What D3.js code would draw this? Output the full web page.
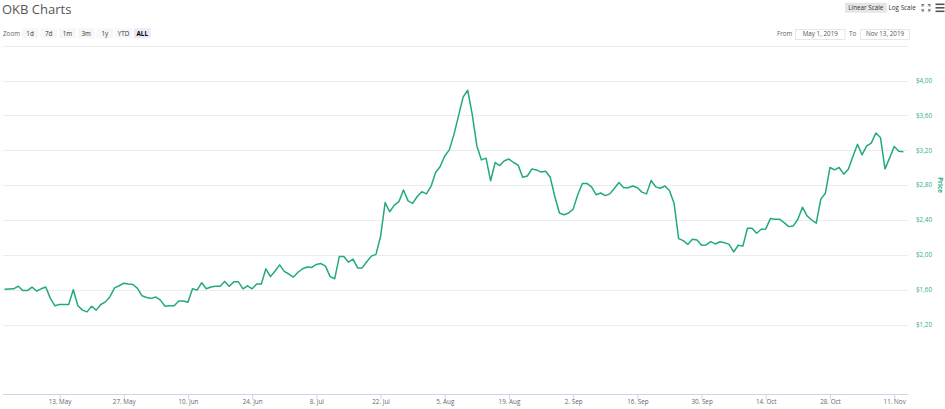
<!DOCTYPE html>
<html>
<head>
<meta charset="utf-8">
<script src="https://cdn.jsdelivr.net/npm/d3@7/dist/d3.min.js"></script>
<style>
  html, body { margin: 0; padding: 0; background: #fff; }
  svg { display: block; font-family: "Open Sans", "DejaVu Sans", sans-serif; }
</style>
</head>
<body>
<svg id="chart" width="945" height="409"></svg>
<script>
// ---- data ----
const startDate = "2019-05-01";
const prices = [
  1.605, 1.607, 1.61, 1.64, 1.59, 1.59, 1.63, 1.585, 1.61, 1.63,
  1.50, 1.415, 1.43, 1.43, 1.43, 1.60, 1.415, 1.365, 1.345, 1.41,
  1.365, 1.43, 1.46, 1.52, 1.62, 1.645, 1.675, 1.665, 1.66, 1.615,
  1.53, 1.51, 1.50, 1.515, 1.48, 1.41, 1.415, 1.415, 1.47, 1.47,
  1.455, 1.61, 1.595, 1.68, 1.61, 1.63, 1.64, 1.64, 1.695, 1.64,
  1.69, 1.69, 1.61, 1.645, 1.61, 1.665, 1.665, 1.84, 1.75, 1.815,
  1.885, 1.81, 1.78, 1.745, 1.80, 1.84, 1.86, 1.855, 1.89, 1.90,
  1.87, 1.75, 1.725, 1.98, 1.98, 1.915, 1.95, 1.85, 1.85, 1.92,
  1.985, 2.005, 2.21, 2.60, 2.495, 2.57, 2.61, 2.745, 2.62, 2.59,
  2.67, 2.725, 2.70, 2.785, 2.945, 3.015, 3.135, 3.205, 3.38, 3.595,
  3.81, 3.89, 3.61, 3.25, 3.09, 3.11, 2.85, 3.06, 3.025, 3.08,
  3.10, 3.06, 3.03, 2.89, 2.905, 2.985, 2.975, 2.95, 2.96, 2.89,
  2.67, 2.48, 2.46, 2.48, 2.525, 2.69, 2.82, 2.82, 2.78, 2.69,
  2.71, 2.68, 2.70, 2.765, 2.83, 2.77, 2.77, 2.79, 2.77, 2.72,
  2.70, 2.853, 2.78, 2.765, 2.79, 2.738, 2.593, 2.186, 2.163, 2.12,
  2.18, 2.17, 2.11, 2.114, 2.152, 2.125, 2.15, 2.14, 2.12, 2.033,
  2.11, 2.10, 2.305, 2.305, 2.248, 2.294, 2.298, 2.416, 2.409, 2.409,
  2.37, 2.324, 2.332, 2.409, 2.547, 2.447, 2.40, 2.363, 2.64, 2.708,
  3.003, 2.976, 3.003, 2.926, 2.984, 3.129, 3.27, 3.148, 3.252, 3.283,
  3.398, 3.347, 2.987, 3.11, 3.244, 3.19, 3.183
];
const yTicks = [1.2, 1.6, 2.0, 2.4, 2.8, 3.2, 3.6, 4.0, 4.4];
const yLabelTicks = [1.2, 1.6, 2.0, 2.4, 2.8, 3.2, 3.6, 4.0];
const xTickDates = ["2019-05-13", "2019-05-27", "2019-06-10", "2019-06-24", "2019-07-08",
  "2019-07-22", "2019-08-05", "2019-08-19", "2019-09-02", "2019-09-16", "2019-09-30",
  "2019-10-14", "2019-10-28", "2019-11-11"];
const zoomButtons = ["1d", "7d", "1m", "3m", "1y", "YTD", "ALL"];
const selectedZoom = "ALL";
const fromText = "May 1, 2019";
const toText = "Nov 13, 2019";
const yAxisTitle = "Price";

// ---- build ----
const parse = d3.utcParse("%Y-%m-%d");
const t0 = parse(startDate);
const series = prices.map((v, i) => ({ date: d3.utcDay.offset(t0, i), value: v }));

const svg = d3.select("#chart");
const plotLeft = 3, plotRight = 908, plotBottom = 394;

const x = d3.scaleUtc()
  .domain([t0, d3.utcDay.offset(t0, 197)])
  .range([4.5, 4.5 + 197 * 4.586]);
const y = d3.scaleLinear().domain([0.4, 4.4]).range([394.2, 45.8]);

const lineColor = "#22a97f";
const labelColor = "#2fae85";

// gridlines
svg.append("g").selectAll("line").data(yTicks).join("line")
  .attr("x1", plotLeft).attr("x2", plotRight)
  .attr("y1", d => Math.round(y(d)) + 0.5).attr("y2", d => Math.round(y(d)) + 0.5)
  .attr("stroke", "#ececec").attr("stroke-width", 1);

// y labels (right)
svg.append("g").selectAll("text").data(yLabelTicks).join("text")
  .attr("x", 916).attr("y", d => y(d) + 2.3)
  .attr("font-size", 6.3).attr("fill", labelColor)
  .text(d => "$" + d.toFixed(2).replace(".", ","));

// y axis title
svg.append("text")
  .attr("transform", "translate(937.5,185) rotate(90)")
  .attr("text-anchor", "middle").attr("font-size", 6.3).attr("font-weight", "bold")
  .attr("fill", labelColor).text(yAxisTitle);

// x axis
const xAxis = d3.axisBottom(x)
  .tickValues(xTickDates.map(parse))
  .tickSize(5)
  .tickFormat(d => d3.utcFormat("%-d. %b")(d));
const gx = svg.append("g").attr("transform", "translate(0," + (plotBottom + 0.5) + ")").call(xAxis);
gx.select(".domain").remove();
gx.selectAll(".tick line").attr("stroke", "#ccd6eb");
gx.selectAll(".tick text").attr("font-size", 6.3).attr("fill", "#666")
  .attr("font-family", "'Open Sans', 'DejaVu Sans', sans-serif").attr("dy", "0.35em").attr("y", 7.5);
svg.append("line").attr("x1", plotLeft).attr("x2", plotRight)
  .attr("y1", plotBottom + 0.5).attr("y2", plotBottom + 0.5)
  .attr("stroke", "#ccd6eb").attr("stroke-width", 1);

// price line
const line = d3.line().x(d => x(d.date)).y(d => y(d.value));
svg.append("path").datum(series)
  .attr("d", line).attr("fill", "none")
  .attr("stroke", lineColor).attr("stroke-width", 1.5)
  .attr("stroke-linejoin", "round");

// title
svg.append("text").attr("x", 2).attr("y", 14)
  .attr("font-size", 13).attr("fill", "#555").text("OKB Charts");

// zoom label & buttons
svg.append("text").attr("x", 3).attr("y", 35.5)
  .attr("font-size", 6.3).attr("fill", "#666").text("Zoom");
const btnG = svg.append("g");
zoomButtons.forEach((b, i) => {
  const bx = 21.7 + i * 18.7;
  const sel = b === selectedZoom;
  btnG.append("rect").attr("x", bx).attr("y", 28.3).attr("width", 16.7).attr("height", 10)
    .attr("fill", sel ? "#e6ebf5" : "#f7f7f7");
  btnG.append("text").attr("x", bx + 8.35).attr("y", 35.6).attr("text-anchor", "middle")
    .attr("font-size", 6.3).attr("font-weight", sel ? "bold" : "normal")
    .attr("fill", sel ? "#000" : "#333").text(b);
});

// scale buttons top right
svg.append("rect").attr("x", 845).attr("y", 2.7).attr("width", 41.7).attr("height", 10)
  .attr("fill", "#e6e6e6");
svg.append("text").attr("x", 865.8).attr("y", 10).attr("text-anchor", "middle")
  .attr("font-size", 6.3).attr("fill", "#333").text("Linear Scale");
svg.append("text").attr("x", 888.5).attr("y", 10)
  .attr("font-size", 6.3).attr("fill", "#333").text("Log Scale");
// fullscreen icon
const fi = svg.append("g").attr("stroke", "#666").attr("stroke-width", 0.9).attr("fill", "none");
[[922, 4.5, 1, 1], [930, 4.5, -1, 1], [922, 11, 1, -1], [930, 11, -1, -1]].forEach(([cx, cy, sx, sy]) => {
  fi.append("path").attr("d", "M" + cx + "," + (cy + sy * 2.2) + "L" + cx + "," + cy + "L" + (cx + sx * 2.2) + "," + cy +
    "M" + cx + "," + cy + "L" + (cx + sx * 2) + "," + (cy + sy * 2));
});
// hamburger
[4.3, 7.8, 11.3].forEach(yy => {
  svg.append("rect").attr("x", 935.5).attr("y", yy - 0.8).attr("width", 9).attr("height", 1.6).attr("fill", "#555");
});

// From / To inputs
svg.append("text").attr("x", 777).attr("y", 36).attr("font-size", 6.3).attr("fill", "#666").text("From");
svg.append("rect").attr("x", 795.5).attr("y", 29.5).attr("width", 49.5).attr("height", 10)
  .attr("fill", "#fff").attr("stroke", "#ddd").attr("stroke-width", 0.7);
svg.append("text").attr("x", 820.3).attr("y", 36).attr("text-anchor", "middle")
  .attr("font-size", 6.3).attr("fill", "#555").text(fromText);
svg.append("text").attr("x", 849).attr("y", 36).attr("font-size", 6.3).attr("fill", "#666").text("To");
svg.append("rect").attr("x", 860.5).attr("y", 29.5).attr("width", 49).attr("height", 10)
  .attr("fill", "#fff").attr("stroke", "#ddd").attr("stroke-width", 0.7);
svg.append("text").attr("x", 885).attr("y", 36).attr("text-anchor", "middle")
  .attr("font-size", 6.3).attr("fill", "#555").text(toText);
</script>
</body>
</html>
